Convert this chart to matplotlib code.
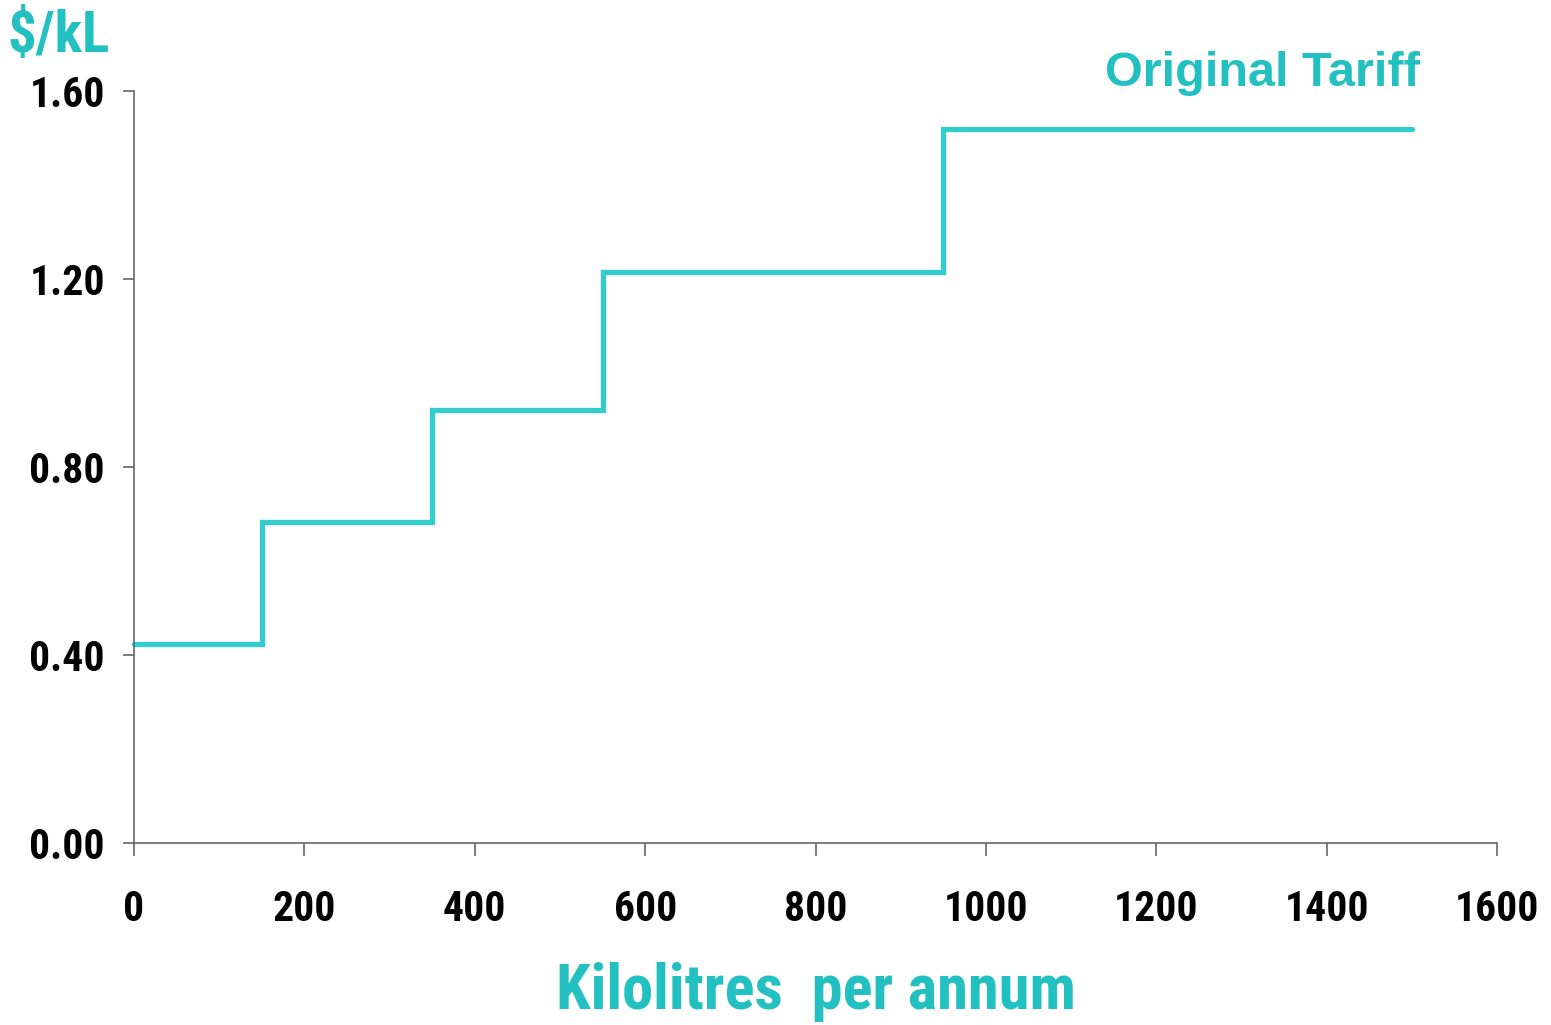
import matplotlib
matplotlib.use("Agg")
import matplotlib.pyplot as plt
from matplotlib import font_manager

# Data
block_edges = [0, 150, 350, 550, 950, 1500]
block_prices = [0.423, 0.683, 0.921, 1.215, 1.519]
x_ticks = [0, 200, 400, 600, 800, 1000, 1200, 1400, 1600]
y_ticks = [0.0, 0.4, 0.8, 1.2, 1.6]
series_label = "Original Tariff"

names = {f.name for f in font_manager.fontManager.ttflist}
narrow = "Roboto Condensed" if "Roboto Condensed" in names else "DejaVu Sans"
wide = "Liberation Sans" if "Liberation Sans" in names else "DejaVu Sans"

teal = "#33CCCC"
teal_text = "#22C0C0"

fig = plt.figure(figsize=(15.51, 10.25), dpi=100)
ax = fig.add_axes([134/1551, 1-843/1025, (1497-134)/1551, (843-91)/1025])

xs = block_edges
ys = block_prices + [block_prices[-1]]
ax.step(xs, ys, where="post", color=teal, lw=3.8, solid_capstyle="round", solid_joinstyle="miter", clip_on=False)

ax.set_xlim(0, 1600)
ax.set_ylim(0, 1.6)
ax.set_xticks(x_ticks)
ax.set_yticks(y_ticks)
ax.set_xticklabels([str(v) for v in x_ticks])
ax.set_yticklabels([f"{v:.2f}" for v in y_ticks])

for s in ["top", "right"]:
    ax.spines[s].set_visible(False)
for s in ["left", "bottom"]:
    ax.spines[s].set_color("#666666")
    ax.spines[s].set_linewidth(1.2)

ax.tick_params(axis="x", direction="out", length=9, width=1.2, color="#666666", pad=24)
ax.tick_params(axis="y", direction="out", length=8, width=1.2, color="#666666", pad=13)
for lab in ax.get_xticklabels() + ax.get_yticklabels():
    lab.set_fontfamily(narrow)
    lab.set_fontweight("bold")
    lab.set_fontsize(30)
    lab.set_color("black")

ax.set_xlabel("Kilolitres  per annum", fontfamily=narrow, fontweight="bold", fontsize=45, color=teal_text, labelpad=23)
fig.text(8/1551, 1-37/1025, "$/kL", fontfamily=narrow, fontweight="bold", fontsize=41, color=teal_text, va="center", ha="left")
fig.text(1420/1551, 1-73/1025, series_label, fontfamily=wide, fontweight="bold", fontsize=35, color=teal_text, va="center", ha="right")

fig.savefig("out.png", dpi=100)
